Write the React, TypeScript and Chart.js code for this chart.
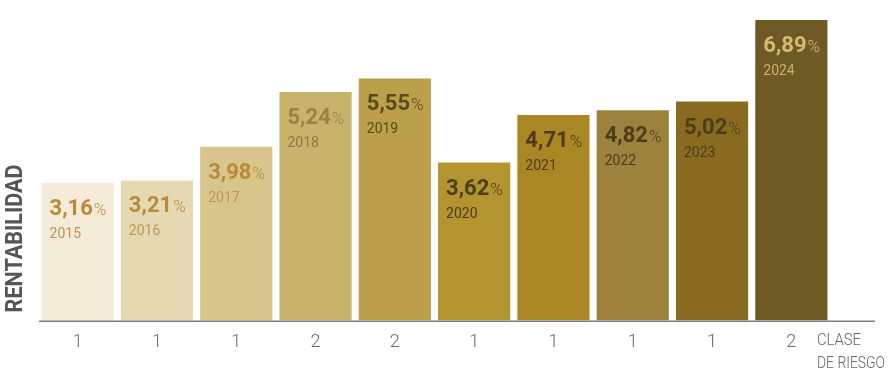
import React, { useEffect, useRef } from "react";
import { Chart, registerables } from "chart.js";

Chart.register(...registerables);

const years = ["2015", "2016", "2017", "2018", "2019", "2020", "2021", "2022", "2023", "2024"];
const rentabilidad = [3.16, 3.21, 3.98, 5.24, 5.55, 3.62, 4.71, 4.82, 5.02, 6.89];
const riskClass = ["1", "1", "1", "2", "2", "1", "1", "1", "1", "2"];
const barColors = ["#F3EBD8", "#E4D9B2", "#D8C58C", "#C9B26B", "#BBA049", "#B3952F", "#A98725", "#9D823E", "#886A21", "#6D5A25"];
const valueColors = ["#B98A3A", "#B98A3A", "#B98A3A", "#9A8146", "#5A4821", "#4C3C1B", "#4C3C1B", "#4C3C1B", "#4C3C1B", "#D7BA70"];
const yearColors = ["#BF9552", "#BF9552", "#BF9552", "#8E7744", "#5A4821", "#4C3C1B", "#4C3C1B", "#4C3C1B", "#4C3C1B", "#CDB06C"];
const yAxisTitle = "RENTABILIDAD";
const xAxisTitle = ["CLASE", "DE RIESGO"];

const FONT = "Roboto, 'Open Sans', sans-serif";

const labelsPlugin = {
  id: "customLabels",
  afterDatasetsDraw(chart: any) {
    const ctx = chart.ctx;
    const meta = chart.getDatasetMeta(0);
    const area = chart.chartArea;
    ctx.save();
    meta.data.forEach((bar: any, i: number) => {
      const left = bar.x - bar.width / 2 + 8;
      const top = bar.y;
      const txt = rentabilidad[i].toFixed(2).replace(".", ",");
      ctx.textBaseline = "alphabetic";
      ctx.textAlign = "left";
      ctx.fillStyle = valueColors[i];
      ctx.font = `bold 22px ${FONT}`;
      ctx.fillText(txt, left, top + 32);
      const w = ctx.measureText(txt).width;
      ctx.font = `300 17px ${FONT}`;
      ctx.fillText("%", left + w + 1, top + 32);
      ctx.fillStyle = yearColors[i];
      ctx.font = `14px ${FONT}`;
      ctx.fillText(years[i], left, top + 55);
    });
    // axis line
    ctx.strokeStyle = "#7a7a7a";
    ctx.lineWidth = 1.5;
    ctx.beginPath();
    ctx.moveTo(area.left + 1, area.bottom + 0.75);
    ctx.lineTo(875, area.bottom + 0.75);
    ctx.stroke();
    // y title
    ctx.save();
    ctx.translate(22, area.bottom - 8);
    ctx.rotate(-Math.PI / 2);
    ctx.fillStyle = "#555555";
    ctx.font = `bold 23px ${FONT}`;
    ctx.textAlign = "left";
    ctx.textBaseline = "alphabetic";
    ctx.fillText(yAxisTitle, 0, 0, 148);
    ctx.restore();
    // x title
    ctx.fillStyle = "#666666";
    ctx.font = `300 17px ${FONT}`;
    ctx.textAlign = "left";
    ctx.fillText(xAxisTitle[0], 817, 345, 44);
    ctx.fillText(xAxisTitle[1], 817, 368, 68);
    ctx.restore();
  },
};

export default function App() {
  const ref = useRef<HTMLCanvasElement>(null);
  useEffect(() => {
    document.body.style.margin = "0";
    const chart = new Chart(ref.current!, {
      type: "bar",
      data: {
        labels: years,
        datasets: [
          {
            data: rentabilidad,
            backgroundColor: barColors,
            barPercentage: 0.91,
            categoryPercentage: 1,
            borderWidth: 0,
          },
        ],
      },
      options: {
        animation: false,
        responsive: false,
        maintainAspectRatio: false,
        layout: { padding: { left: 38, right: 63, top: 20, bottom: 24 } },
        plugins: { legend: { display: false }, tooltip: { enabled: false } },
        scales: {
          x: {
            grid: { display: false },
            border: { display: false },
            ticks: {
              color: "#6a6a6a",
              font: { size: 18, family: FONT, weight: "300" as any },
              padding: 3,
              callback: (_v: any, i: number) => riskClass[i],
            },
          },
          y: { display: false, min: 0, max: 6.89 },
        },
      },
      plugins: [labelsPlugin],
    });
    return () => chart.destroy();
  }, []);
  return (
    <div style={{ width: 894, height: 380 }}>
      <canvas ref={ref} width={894} height={380} />
    </div>
  );
}
